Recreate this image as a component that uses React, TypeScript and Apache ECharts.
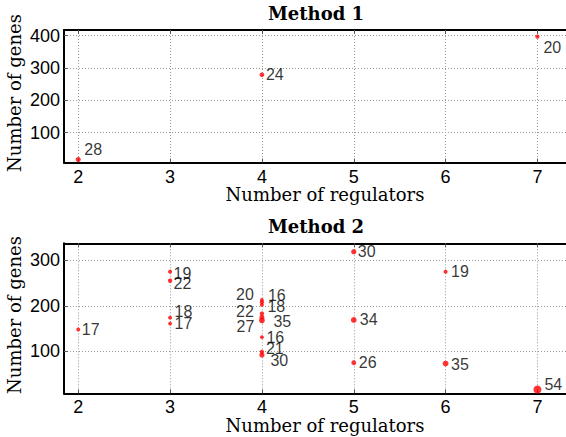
import React, { useEffect, useRef } from "react";
import * as echarts from "echarts";

// ---- data ----
const X_TICKS = [2, 3, 4, 5, 6, 7];
const M1_Y_TICKS = [100, 200, 300, 400];
const M2_Y_TICKS = [100, 200, 300];

const M1_X = [2, 4, 7];
const M1_Y = [17, 279, 397];
const M1_N = [28, 24, 20];

const M2_X = [2, 3, 3, 3, 3, 4, 4, 4, 4, 4, 4, 4, 4, 4, 5, 5, 5, 6, 6, 7];
const M2_Y = [148, 275, 255, 174, 161, 213, 208, 202, 183, 175, 168, 131, 99, 92, 319, 169, 75, 275, 73, 16];
const M2_N = [17, 19, 22, 18, 17, 16, 20, 18, 22, 27, 35, 16, 21, 30, 30, 34, 26, 19, 35, 54];

// label placement: side, gap from point centre, vertical shift
const M1_LABEL_POS: [string, number, number][] = [
  ["r", 6, -10], ["r", 4, 0], ["r", 6, 10.5],
];
const M2_LABEL_POS: [string, number, number][] = [
  ["r", 3.5, 0],
  ["r", 3.5, 2], ["r", 3.5, 3], ["r", 4.5, -6], ["r", 4.5, 0],
  ["r", 6, -4], ["l", 8, -8], ["r", 5.5, 2], ["l", 8, -2], ["l", 7.5, 9],
  ["r", 11.5, 1.5], ["r", 4.5, 0], ["r", 4, -3], ["r", 8.5, 6],
  ["r", 4, 0], ["r", 6, 0], ["r", 5, 0],
  ["r", 5.5, 0], ["r", 5.5, 1],
  ["r", 7, -5],
];

const SANS = "Liberation Sans";
const SERIF = "DejaVu Serif";

function sizeOf(n: number) {
  return 2 + n * 0.11;
}

function buildData(xs: number[], ys: number[], ns: number[], pos: [string, number, number][]) {
  return xs.map((x, i) => {
    const s = sizeOf(ns[i]);
    const [side, gap, dy] = pos[i];
    const off = gap - s / 2;
    return {
      value: [x, ys[i], ns[i]],
      symbolSize: s,
      label: {
        position: side === "r" ? "right" : "left",
        distance: 0,
        offset: [side === "r" ? off : -off, dy],
      },
    };
  });
}

const X_MIN = 1.845;
const X_MAX = 7.311;

function xAxisBottom(gridIndex: number) {
  return {
    type: "value",
    gridIndex,
    position: "bottom",
    min: X_MIN,
    max: X_MAX,
    axisLine: { show: true, onZero: false, lineStyle: { color: "#000", width: 2 } },
    axisTick: { show: true, inside: true, length: 4, customValues: X_TICKS, lineStyle: { color: "#555" } },
    axisLabel: { customValues: X_TICKS, color: "#000", fontFamily: SANS, fontSize: 18, margin: 5 },
    splitLine: { show: true, lineStyle: { color: "#999", type: [1, 2], width: 1 } },
  };
}
function xAxisTop(gridIndex: number) {
  return {
    type: "value",
    gridIndex,
    position: "top",
    min: X_MIN,
    max: X_MAX,
    axisLine: { show: true, onZero: false, lineStyle: { color: "#000", width: 2 } },
    axisTick: { show: true, inside: true, length: 4, customValues: X_TICKS, lineStyle: { color: "#555" } },
    axisLabel: { show: false },
    splitLine: { show: false },
  };
}
function yAxis(gridIndex: number, min: number, max: number, ticks: number[]) {
  return {
    type: "value",
    gridIndex,
    min,
    max,
    axisLine: { show: true, onZero: false, lineStyle: { color: "#000", width: 2 } },
    axisTick: { show: true, inside: true, length: 4, customValues: ticks, lineStyle: { color: "#555" } },
    axisLabel: { customValues: ticks, color: "#000", fontFamily: SANS, fontSize: 18, margin: 4 },
    splitLine: { show: true, lineStyle: { color: "#999", type: [1, 2], width: 1 } },
  };
}

const labelStyle = {
  show: true,
  formatter: (p: any) => String(p.value[2]),
  color: "#000",
  fontFamily: SANS,
  fontSize: 16,
};

function text(x: number, y: number, t: string, size: number, weight: string, rot = 0) {
  return {
    type: "text",
    x,
    y,
    rotation: rot,
    style: {
      text: t,
      fill: "#000",
      fontFamily: SERIF,
      fontSize: size,
      fontWeight: weight,
      align: "center",
      verticalAlign: "middle",
    },
  };
}

export default function App() {
  const ref = useRef<HTMLDivElement>(null);
  useEffect(() => {
    if (!ref.current) return;
    const chart = echarts.init(ref.current, undefined, { renderer: "svg" });
    chart.setOption({
      animation: false,
      backgroundColor: "#fff",
      grid: [
        { left: 64, top: 30, width: 504, height: 132.5 },
        { left: 64, top: 243.3, width: 504, height: 150 },
      ],
      xAxis: [xAxisBottom(0), xAxisTop(0), xAxisBottom(1), xAxisTop(1)],
      yAxis: [yAxis(0, 7.8, 417.6, M1_Y_TICKS), yAxis(1, 7.7, 337.4, M2_Y_TICKS)],
      series: [
        {
          type: "scatter",
          xAxisIndex: 0,
          yAxisIndex: 0,
          symbol: "circle",
          itemStyle: { color: "#ff0000" },
          label: labelStyle,
          data: buildData(M1_X, M1_Y, M1_N, M1_LABEL_POS),
          clip: false,
        },
        {
          type: "scatter",
          xAxisIndex: 2,
          yAxisIndex: 1,
          symbol: "circle",
          itemStyle: { color: "#ff0000" },
          label: labelStyle,
          data: buildData(M2_X, M2_Y, M2_N, M2_LABEL_POS),
          clip: false,
        },
      ],
      graphic: [
        text(316, 13, "Method 1", 18, "bold"),
        text(316, 226, "Method 2", 18, "bold"),
        text(325, 194, "Number of regulators", 18, "normal"),
        text(325, 425, "Number of regulators", 18, "normal"),
        text(14, 93, "Number of genes", 18, "normal", Math.PI / 2),
        text(14, 315, "Number of genes", 18, "normal", Math.PI / 2),
      ],
    });
    return () => chart.dispose();
  }, []);
  return (
    <div
      ref={ref}
      style={{ position: "absolute", left: 0, top: 0, width: 566, height: 437 }}
    />
  );
}
